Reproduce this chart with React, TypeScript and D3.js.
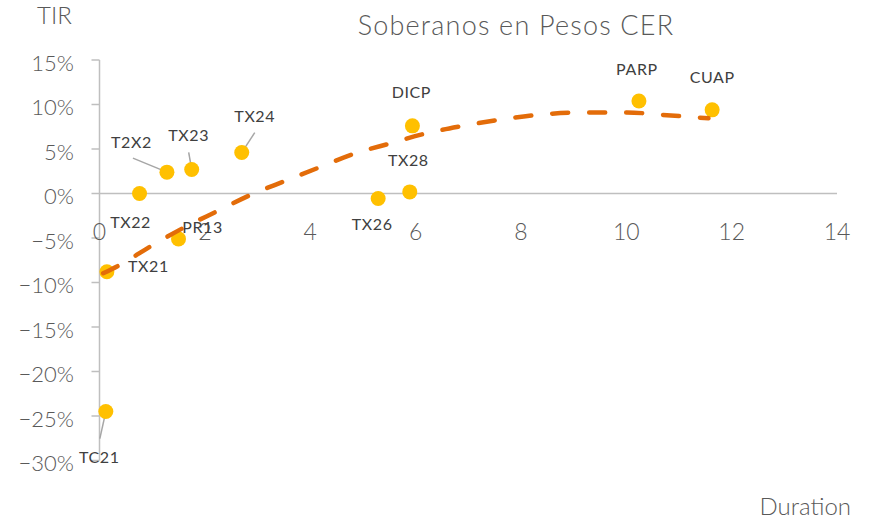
import React from "react";
import * as d3 from "d3";

const names = ["TC21", "TX21", "TX22", "T2X2", "PR13", "TX23", "TX24", "TX26", "TX28", "DICP", "PARP", "CUAP"];
const duration = [0.12, 0.14, 0.76, 1.28, 1.5, 1.75, 2.7, 5.29, 5.89, 5.94, 10.24, 11.63];
const tir = [-0.245, -0.088, 0.0, 0.024, -0.051, 0.027, 0.046, -0.0056, 0.0018, 0.076, 0.104, 0.094];

// trendline
const trendX = [0.07, 0.41, 0.98, 1.58, 2.23, 2.89, 3.52, 4.18, 4.85, 5.53, 6.23, 6.9, 7.66, 8.43, 9.17, 10.01, 10.77, 11.56];
const trendY = [-0.0896, -0.0795, -0.059, -0.039, -0.02, -0.001, 0.014, 0.0295, 0.045, 0.0565, 0.068, 0.076, 0.0835, 0.089, 0.091, 0.091, 0.088, 0.0845];

const xTicks = [0, 2, 4, 6, 8, 10, 12, 14];
const yTicks = [0.15, 0.1, 0.05, 0, -0.05, -0.1, -0.15, -0.2, -0.25, -0.3];

// label placement: [dx, dy] of label centre, optional leader start offset [lx, ly]
const labelPos: Record<string, number[]> = {
  TC21: [-6.5, 46, -6, 27],
  TX21: [41.5, -6],
  TX22: [-9, 29],
  T2X2: [-35.5, -29.5, -34, -14],
  PR13: [24, -12],
  TX23: [-3, -34, -3, -17],
  TX24: [13, -36, 13, -20],
  TX26: [-6, 26],
  TX28: [-1.5, -32],
  DICP: [-1, -34],
  PARP: [-2, -32],
  CUAP: [0, -33],
};

const W = 872, H = 522;
const FONT = "Lato, 'Open Sans', sans-serif";

export default function App() {
  const x = d3.scaleLinear().domain([0, 14]).range([99.5, 837]);
  const y = d3.scaleLinear().domain([-0.3, 0.15]).range([460.5, 60]);
  const line = d3
    .line<number>()
    .x((_, i) => x(trendX[i]))
    .y((d) => y(d))
    .curve(d3.curveMonotoneX);
  const pct = d3.format(".0%");

  return (
    <svg
      width={W}
      height={H}
      style={{ position: "absolute", left: 0, top: 0, background: "#fff" }}
      fontFamily={FONT}
    >
      <text x={516} y={35} textAnchor="middle" fontSize={27} fill="#595959" letterSpacing={1.2} fontWeight={300}>
        Soberanos en Pesos CER
      </text>
      <text x={37} y={24} fontSize={24} fill="#595959" fontWeight={300}>
        TIR
      </text>
      <text x={851} y={515} textAnchor="end" fontSize={24} fill="#595959" fontWeight={300}>
        Duration
      </text>

      {/* y axis */}
      <line x1={x(0)} x2={x(0)} y1={y(0.15)} y2={y(-0.3)} stroke="#BFBFBF" strokeWidth={1.5} />
      {yTicks.map((t) => (
        <g key={t}>
          <line x1={x(0) - 8} x2={x(0)} y1={y(t)} y2={y(t)} stroke="#BFBFBF" strokeWidth={1.5} />
          <text x={74} y={y(t) + 3} dy="0.36em" textAnchor="end" fontSize={22} fill="#595959" fontWeight={300}>
            {pct(t)}
          </text>
        </g>
      ))}
      {/* x axis at zero */}
      <line x1={x(0)} x2={x(14)} y1={y(0)} y2={y(0)} stroke="#BFBFBF" strokeWidth={1.5} />
      {xTicks.map((t) => (
        <text key={t} x={x(t)} y={240} textAnchor="middle" fontSize={23} fill="#595959" fontWeight={300}>
          {t}
        </text>
      ))}

      {/* leader lines */}
      {names.map((n, i) => {
        const p = labelPos[n];
        if (p.length < 4) return null;
        const px = x(duration[i]);
        const py = y(tir[i]);
        return (
          <line key={n + "l"} x1={px + p[2]} y1={py + p[3]} x2={px} y2={py} stroke="#A6A6A6" strokeWidth={1.5} />
        );
      })}

      {/* points */}
      {names.map((n, i) => (
        <circle key={n} cx={x(duration[i])} cy={y(tir[i])} r={7.5} fill="#FFC000" />
      ))}

      {/* trendline */}
      <path
        d={line(trendY) || ""}
        fill="none"
        stroke="#E36C09"
        strokeWidth={4.5}
        strokeLinecap="round"
        strokeDasharray="16 21"
      />

      {/* labels */}
      {names.map((n, i) => {
        const [dx, dy] = labelPos[n];
        return (
          <text
            key={n + "t"}
            x={x(duration[i]) + dx}
            y={y(tir[i]) + dy}
            dy="0.36em"
            textAnchor="middle"
            fontSize={16}
            fill="#404040"
            letterSpacing={0.6}
          >
            {n}
          </text>
        );
      })}
    </svg>
  );
}
